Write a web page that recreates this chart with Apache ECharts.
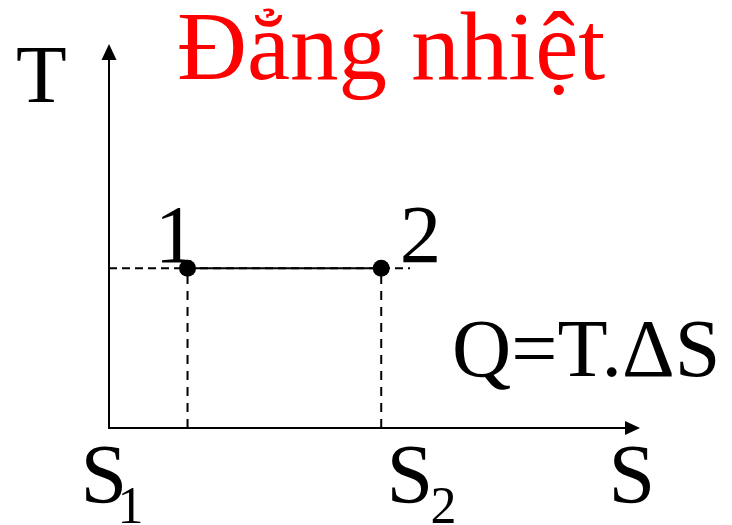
<!DOCTYPE html>
<html>
<head>
<meta charset="utf-8">
<title>Đẳng nhiệt</title>
<script src="https://cdn.jsdelivr.net/npm/echarts@6/dist/echarts.min.js"></script>
<style>
  html, body { margin: 0; padding: 0; background: #fff; }
  #chart { width: 732px; height: 525px; }
</style>
</head>
<body>
<div id="chart"></div>
<script>
// Isothermal process on a T–S diagram: state 1 -> state 2 at constant T
const stateNames = ['1', '2'];
const entropyValues = [1.5, 5.2];      // S1, S2
const temperature = 4.25;              // constant T
const guideEnd = 5.75;                 // where the dashed T guide stops
const axisRange = { sMax: 10, tMax: 10 };

const SERIF = "'Liberation Serif', 'Times New Roman', serif";
const dashedGuide = { color: '#000', width: 2, type: [8, 5] };
const dashedDrop = { color: '#000', width: 2, type: [9, 7] };

const chart = echarts.init(document.getElementById('chart'), null, { renderer: 'canvas' });

const processPoints = entropyValues.map((s, i) => ({
  value: [s, temperature],
  label: {
    show: true,
    formatter: stateNames[i],
    position: 'inside',
    align: i === 0 ? 'right' : 'left',
    verticalAlign: 'middle',
    offset: i === 0 ? [8.6, -28] : [18.5, -28],
    color: '#000',
    fontFamily: SERIF,
    fontSize: 83
  }
}));

const option = {
  animation: false,
  backgroundColor: '#fff',
  title: {
    text: 'Đẳng nhiệt',
    left: 177,
    top: 5,
    padding: 0,
    textStyle: { color: '#ff0000', fontFamily: SERIF, fontSize: 97, fontWeight: 'normal' }
  },
  grid: { left: 109, right: 99.5, top: 52, bottom: 97 },
  xAxis: {
    type: 'value', min: 0, max: axisRange.sMax,
    axisLine: { show: true, onZero: false, symbol: ['none', 'triangle'], symbolSize: [14, 15],
      lineStyle: { color: '#000', width: 2 } },
    axisTick: { show: false }, axisLabel: { show: false }, splitLine: { show: false }
  },
  yAxis: {
    type: 'value', min: 0, max: axisRange.tMax,
    axisLine: { show: true, onZero: false, symbol: ['none', 'triangle'], symbolSize: [15, 16],
      lineStyle: { color: '#000', width: 2 } },
    axisTick: { show: false }, axisLabel: { show: false }, splitLine: { show: false }
  },
  series: [
    {
      type: 'line', silent: true, symbol: 'none',
      data: [[0, temperature], [guideEnd, temperature]],
      lineStyle: dashedGuide
    },
    {
      type: 'line', silent: true, symbol: 'none',
      data: [[entropyValues[0], 0], [entropyValues[0], temperature]],
      lineStyle: dashedDrop
    },
    {
      type: 'line', silent: true, symbol: 'none',
      data: [[entropyValues[1], 0], [entropyValues[1], temperature]],
      lineStyle: dashedDrop
    },
    {
      type: 'line', silent: true, symbol: 'circle', symbolSize: 17, showSymbol: true,
      itemStyle: { color: '#000' },
      lineStyle: { color: '#000', width: 2 },
      data: processPoints,
      z: 5
    }
  ],
  graphic: [
    { type: 'text', style: { text: 'T', x: 16, y: 80, font: '83px ' + SERIF, fill: '#000', textAlign: 'left', textVerticalAlign: 'middle' } },
    { type: 'text', style: { text: 'S', x: 608.5, y: 481, font: '84px ' + SERIF, fill: '#000', textAlign: 'left', textVerticalAlign: 'middle' } },
    { type: 'text', style: { text: 'S', x: 80.5, y: 481, font: '84px ' + SERIF, fill: '#000', textAlign: 'left', textVerticalAlign: 'middle' } },
    { type: 'text', style: { text: '1', x: 117.5, y: 509, font: '52px ' + SERIF, fill: '#000', textAlign: 'left', textVerticalAlign: 'middle' } },
    { type: 'text', style: { text: 'S', x: 386.5, y: 481, font: '84px ' + SERIF, fill: '#000', textAlign: 'left', textVerticalAlign: 'middle' } },
    { type: 'text', style: { text: '2', x: 430.4, y: 509, font: '52px ' + SERIF, fill: '#000', textAlign: 'left', textVerticalAlign: 'middle' } },
    { type: 'text', style: { text: 'Q=T.ΔS', x: 452, y: 354.3, font: '82px ' + SERIF, fill: '#000', textAlign: 'left', textVerticalAlign: 'middle' } }
  ]
};

chart.setOption(option);
</script>
</body>
</html>
